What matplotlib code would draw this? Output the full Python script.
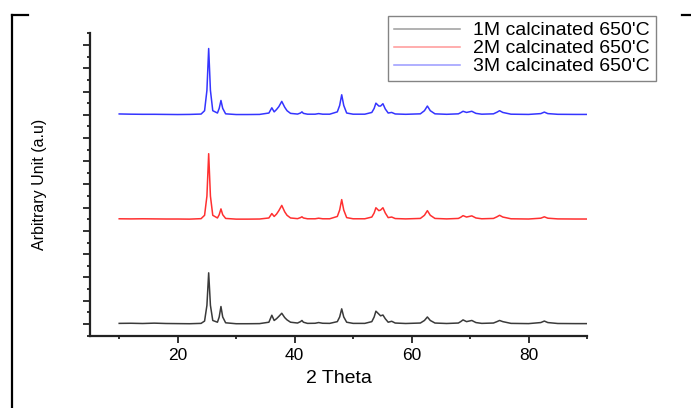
import numpy as np
import matplotlib
matplotlib.use('Agg')
import matplotlib.pyplot as plt
from matplotlib.lines import Line2D
from matplotlib.ticker import MultipleLocator, NullFormatter

plt.rcParams['font.family'] = ['Liberation Sans', 'DejaVu Sans']

# XRD patterns (intensity above each trace's own baseline, a.u.)
two_theta = [10, 12, 14, 16, 18, 20, 22, 24, 24.6, 25.0, 25.3, 25.6, 26.0, 26.8, 27.1, 27.4,
             27.7, 28.2, 30, 32, 34, 35.6, 36.1, 36.5, 36.9, 37.3, 37.8, 38.3, 38.7, 39.3,
             40.5, 41.0, 41.25, 41.5, 42.2, 43.5, 44.1, 44.8, 46, 47.3, 47.7, 48.05, 48.4,
             48.9, 50, 52, 53.2, 53.6, 53.9, 54.4, 54.7, 55.1, 55.5, 56.0, 56.6, 57.2, 59,
             61.5, 62.2, 62.7, 63.2, 64, 66, 68, 68.4, 68.8, 69.4, 70.3, 71.0, 72, 74, 74.6,
             75.05, 75.6, 77, 80, 82.1, 82.7, 83.3, 85, 88, 90]

int_1m = [0.05, 0.06, 0.04, 0.07, 0.04, 0.03, 0.02, 0.05, 0.25, 1.6, 4.4, 1.6, 0.3, 0.15, 0.6, 1.5,
          0.6, 0.1, 0.02, 0.02, 0.03, 0.15, 0.75, 0.3, 0.45, 0.65, 0.92, 0.55, 0.35, 0.15,
          0.08, 0.2, 0.3, 0.15, 0.05, 0.06, 0.12, 0.06, 0.05, 0.2, 0.6, 1.3, 0.6,
          0.15, 0.05, 0.05, 0.2, 0.6, 1.1, 0.85, 0.7, 0.77, 0.45, 0.15, 0.23, 0.08, 0.04,
          0.08, 0.3, 0.6, 0.3, 0.08, 0.04, 0.08, 0.2, 0.35, 0.2, 0.3, 0.12, 0.05, 0.08, 0.2,
          0.3, 0.2, 0.05, 0.03, 0.12, 0.25, 0.12, 0.04, 0.03, 0.03]

int_2m = [0.05, 0.04, 0.05, 0.04, 0.03, 0.03, 0.02, 0.06, 0.35, 2.0, 5.65, 2.0, 0.35, 0.12, 0.4, 0.9,
          0.4, 0.08, 0.02, 0.02, 0.03, 0.12, 0.5, 0.25, 0.45, 0.75, 1.2, 0.65, 0.35, 0.12,
          0.06, 0.15, 0.22, 0.12, 0.05, 0.05, 0.1, 0.05, 0.05, 0.25, 0.8, 1.7, 0.8,
          0.15, 0.05, 0.05, 0.2, 0.55, 1.0, 0.75, 0.8, 1.0, 0.55, 0.15, 0.2, 0.07, 0.04,
          0.08, 0.35, 0.75, 0.35, 0.08, 0.04, 0.08, 0.18, 0.32, 0.2, 0.3, 0.12, 0.05, 0.08, 0.22,
          0.35, 0.2, 0.05, 0.03, 0.1, 0.22, 0.1, 0.04, 0.03, 0.03]

int_3m = [0.07, 0.05, 0.04, 0.04, 0.03, 0.02, 0.03, 0.06, 0.35, 2.1, 5.7, 2.1, 0.35, 0.15, 0.55, 1.23,
          0.55, 0.08, 0.02, 0.02, 0.03, 0.15, 0.6, 0.25, 0.45, 0.7, 1.15, 0.65, 0.35, 0.12,
          0.06, 0.15, 0.25, 0.12, 0.05, 0.05, 0.1, 0.05, 0.05, 0.25, 0.8, 1.72, 0.8,
          0.15, 0.05, 0.05, 0.2, 0.55, 1.0, 0.75, 0.75, 0.95, 0.5, 0.15, 0.2, 0.07, 0.04,
          0.08, 0.35, 0.75, 0.35, 0.08, 0.04, 0.08, 0.18, 0.3, 0.2, 0.3, 0.12, 0.05, 0.08, 0.22,
          0.35, 0.2, 0.05, 0.03, 0.1, 0.23, 0.1, 0.04, 0.03, 0.03]

labels = ["1M calcinated 650'C", "2M calcinated 650'C", "3M calcinated 650'C"]
offsets = [0, 9, 18]
colors = ['#3a3a3a', '#ff3030', '#3535ff']

fig = plt.figure(figsize=(6.91, 4.08), dpi=100)
ax = fig.add_axes([0.1302, 0.1775, 0.7193, 0.7406])

for inten, off, col, lab in zip([int_1m, int_2m, int_3m], offsets, colors, labels):
    ax.plot(two_theta, np.array(inten) + off, color=col, lw=1.1, label=lab)

ax.set_xlim(5, 90)
ax.set_ylim(-1, 25)
ax.xaxis.set_major_locator(MultipleLocator(20))
ax.xaxis.set_minor_locator(MultipleLocator(10))
ax.yaxis.set_major_locator(MultipleLocator(2))
ax.yaxis.set_minor_locator(MultipleLocator(1))
ax.yaxis.set_major_formatter(NullFormatter())

for s in ['top', 'right']:
    ax.spines[s].set_visible(False)
for s in ['left', 'bottom']:
    ax.spines[s].set_linewidth(1.6)
    ax.spines[s].set_color('#222222')

ax.tick_params(which='major', direction='out', length=5, width=1.3, color='#222222', labelsize=12.5, pad=4)
ax.tick_params(which='minor', direction='out', length=2.5, width=1.3, color='#222222')

ax.set_xlabel('2 Theta', fontsize=14, labelpad=5)
ax.set_ylabel('Arbitrary Unit (a.u)', fontsize=11.5, labelpad=22)

leg = fig.legend(loc='upper right', bbox_to_anchor=(0.949, 0.961), bbox_transform=fig.transFigure,
                 fontsize=14, frameon=True, fancybox=False, borderaxespad=0,
                 handlelength=3.4, handletextpad=0.7, labelspacing=0.02, borderpad=0.3)
leg.get_frame().set_edgecolor('#666666')
leg.get_frame().set_linewidth(1.0)
for h in leg.get_lines():
    h.set_alpha(0.5)

# bracket frame around the figure
fig.add_artist(Line2D([0.0174, 0.0174], [0.0, 0.963], color='black', lw=1.6, transform=fig.transFigure))
fig.add_artist(Line2D([0.0174, 0.0405], [0.963, 0.963], color='black', lw=1.6, transform=fig.transFigure))
fig.add_artist(Line2D([0.987, 1.0], [0.963, 0.963], color='black', lw=1.6, transform=fig.transFigure))

fig.savefig('out.png', dpi=100)
